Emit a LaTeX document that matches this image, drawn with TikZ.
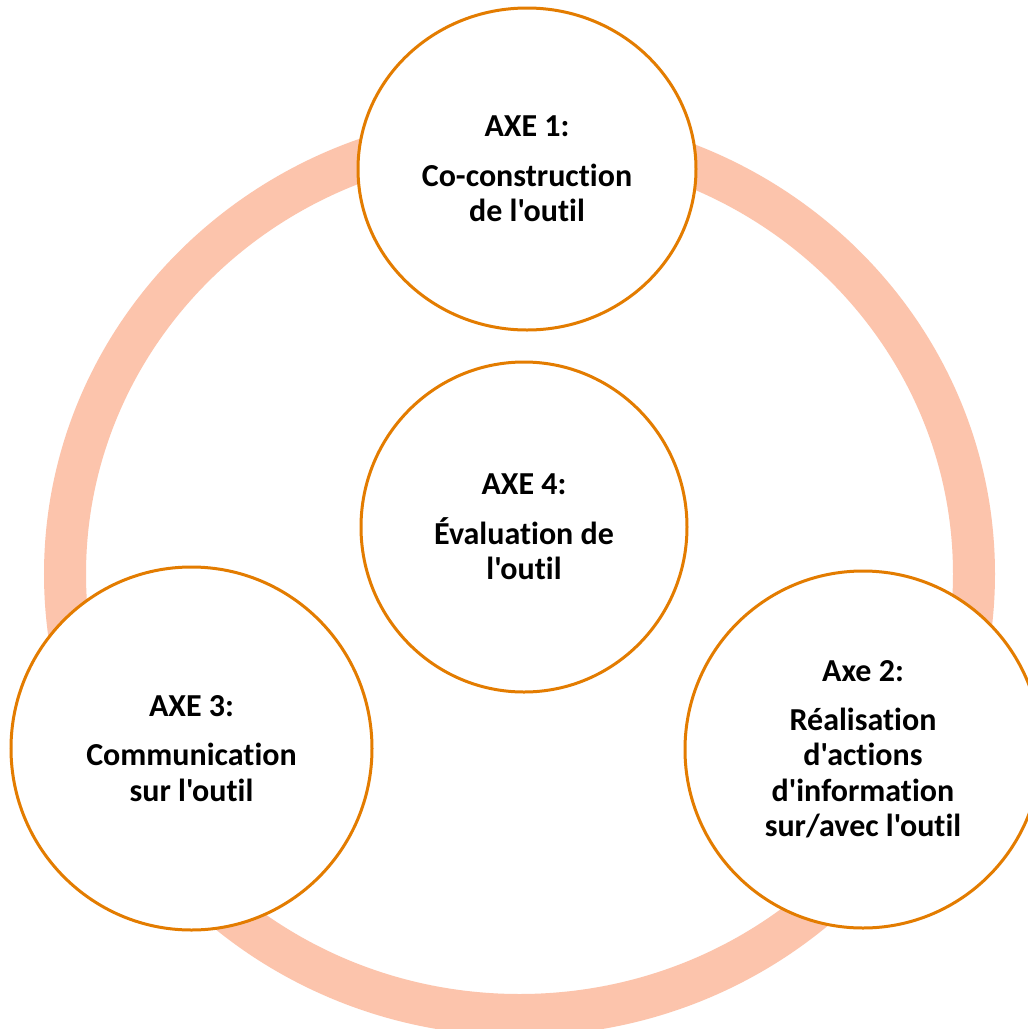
\documentclass[tikz,border=0pt]{standalone}
\usepackage{fontspec}
\setmainfont{Carlito}[Ligatures={TeXOff,CommonOff}]
\usetikzlibrary{shapes.geometric}
\definecolor{ringc}{RGB}{252,196,172}
\definecolor{edgec}{RGB}{227,124,0}
\begin{document}
\begin{tikzpicture}[x=1pt,y=-1pt,
  axe/.style={ellipse, draw=edgec, line width=3pt, fill=white, inner sep=0pt,
    align=center, text=black, font=\bfseries\fontsize{32}{35.5}\selectfont},
  ring/.style={draw=ringc, line width=42pt}
]
\clip (0,0) rectangle (1028,1029);
\fill[white] (0,0) rectangle (1028,1029);
\draw[ring] (519.5,574) ellipse [x radius=454.5, y radius=441];
\node[axe, minimum width=338pt, minimum height=322pt] (a1) at (527,169)
  {AXE 1:\\[14pt]Co-construction\\de l'outil};
\node[axe, minimum width=326pt, minimum height=330pt] (a4) at (524,527)
  {AXE 4:\\[14pt]Évaluation de\\l'outil};
\node[axe, minimum width=361pt, minimum height=363pt] (a3) at (191.5,748.5)
  {AXE 3:\\[14pt]Communication\\sur l'outil};
\node[axe, minimum width=356pt, minimum height=357pt] (a2) at (863,749.5)
  {Axe 2:\\[13pt]Réalisation\\d'actions\\d'information\\sur/avec l'outil};
\end{tikzpicture}
\end{document}
